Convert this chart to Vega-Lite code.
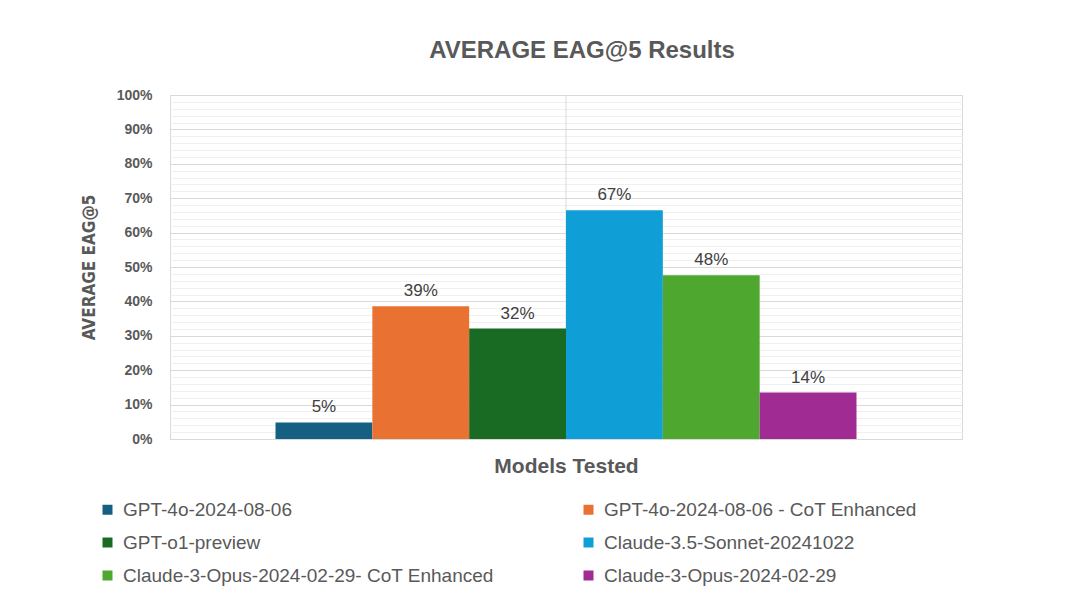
{
  "$schema": "https://vega.github.io/schema/vega-lite/v6.json",
  "autosize": {"type": "none"},
  "padding": {"left": 170, "top": 95, "right": 120, "bottom": 156},
  "width": 792,
  "height": 344,
  "background": "white",
  "title": {
    "text": "AVERAGE EAG@5 Results",
    "font": "Liberation Sans",
    "fontSize": 24,
    "fontWeight": "bold",
    "color": "#595959",
    "anchor": "middle",
    "dx": 16,
    "offset": 25
  },
  "config": {
    "view": {"stroke": "#d9d9d9", "strokeWidth": 1},
    "font": "Liberation Sans"
  },
  "data": {
    "values": [
      {"grp": "Models Tested", "model": "GPT-4o-2024-08-06", "value": 0.048},
      {"grp": "Models Tested", "model": "GPT-4o-2024-08-06 - CoT Enhanced", "value": 0.386},
      {"grp": "Models Tested", "model": "GPT-o1-preview", "value": 0.321},
      {"grp": "Models Tested", "model": "Claude-3.5-Sonnet-20241022", "value": 0.665},
      {"grp": "Models Tested", "model": "Claude-3-Opus-2024-02-29- CoT Enhanced", "value": 0.476},
      {"grp": "Models Tested", "model": "Claude-3-Opus-2024-02-29", "value": 0.135}
    ]
  },
  "encoding": {
    "x": {
      "field": "grp",
      "type": "nominal",
      "scale": {"paddingInner": 0, "paddingOuter": 0.1816},
      "axis": {
        "labels": false,
        "ticks": false,
        "domain": true,
        "domainColor": "#d9d9d9",
        "title": "Models Tested",
        "titleFont": "Liberation Sans",
        "titleFontSize": 21,
        "titleFontWeight": "bold",
        "titleColor": "#595959",
        "titlePadding": 16
      }
    }
  },
  "layer": [
    {
      "transform": [{"filter": "datum.model === 'GPT-4o-2024-08-06'"}],
      "mark": {"type": "rule", "color": "#d9d9d9", "strokeWidth": 1},
      "encoding": {}
    },
    {
      "mark": {"type": "bar"},
      "encoding": {
        "xOffset": {
          "field": "model",
          "type": "nominal",
          "sort": null,
          "scale": {"paddingInner": 0, "paddingOuter": 0, "domain": ["GPT-4o-2024-08-06", "GPT-4o-2024-08-06 - CoT Enhanced", "GPT-o1-preview", "Claude-3.5-Sonnet-20241022", "Claude-3-Opus-2024-02-29- CoT Enhanced", "Claude-3-Opus-2024-02-29"]}
        },
        "y": {
          "field": "value",
          "type": "quantitative",
          "scale": {"domain": [0, 1], "nice": false},
          "axis": {
            "values": [0, 0.02, 0.04, 0.06, 0.08, 0.1, 0.12, 0.14, 0.16, 0.18, 0.2, 0.22, 0.24, 0.26, 0.28, 0.3, 0.32, 0.34, 0.36, 0.38, 0.4, 0.42, 0.44, 0.46, 0.48, 0.5, 0.52, 0.54, 0.56, 0.58, 0.6, 0.62, 0.64, 0.66, 0.68, 0.7, 0.72, 0.74, 0.76, 0.78, 0.8, 0.82, 0.84, 0.86, 0.88, 0.9, 0.92, 0.94, 0.96, 0.98, 1],
            "tickCount": 51,
            "format": ".0%",
            "labelExpr": "round(datum.value*100) % 10 === 0 ? datum.label : ''",
            "labelOverlap": false,
            "grid": true,
            "gridColor": {"condition": {"test": "round(datum.value*100) % 10 === 0", "value": "#d9d9d9"}, "value": "#f0f0f0"},
            "domain": false,
            "ticks": false,
            "labelFont": "Liberation Sans",
            "labelFontSize": 14,
            "labelFontWeight": "bold",
            "labelColor": "#595959",
            "labelPadding": 18,
            "title": "AVERAGE EAG@5",
            "titleFont": "'DejaVu Sans Condensed', 'Liberation Sans', sans-serif",
            "titleFontSize": 17,
            "titleFontWeight": "bold",
            "titleColor": "#595959",
            "titleX": -81,
            "titleY": 172,
            "titleAngle": -90,
            "titleAlign": "center",
            "titleBaseline": "middle"
          }
        },
        "color": {
          "field": "model",
          "type": "nominal",
          "scale": {
            "domain": ["GPT-4o-2024-08-06", "GPT-4o-2024-08-06 - CoT Enhanced", "GPT-o1-preview", "Claude-3.5-Sonnet-20241022", "Claude-3-Opus-2024-02-29- CoT Enhanced", "Claude-3-Opus-2024-02-29"],
            "range": ["#156082", "#E97132", "#196B24", "#0F9ED5", "#4EA72E", "#A02B93"]
          },
          "legend": {
            "orient": "none",
            "legendX": -72,
            "legendY": 405,
            "title": null,
            "columns": 2,
            "direction": "horizontal",
            "symbolType": "square",
            "symbolSize": 100,
            "symbolStrokeWidth": 0,
            "labelFont": "Liberation Sans",
            "labelFontSize": 19,
            "labelColor": "#595959",
            "labelOffset": 6,
            "labelLimit": 500,
            "rowPadding": 13,
            "columnPadding": 85
          }
        }
      }
    },
    {
      "mark": {"type": "text", "dy": -10, "baseline": "alphabetic", "font": "Liberation Sans", "fontSize": 17, "color": "#404040"},
      "encoding": {
        "xOffset": {
          "field": "model",
          "type": "nominal",
          "sort": null,
          "scale": {"paddingInner": 0, "paddingOuter": 0, "domain": ["GPT-4o-2024-08-06", "GPT-4o-2024-08-06 - CoT Enhanced", "GPT-o1-preview", "Claude-3.5-Sonnet-20241022", "Claude-3-Opus-2024-02-29- CoT Enhanced", "Claude-3-Opus-2024-02-29"]}
        },
        "y": {"field": "value", "type": "quantitative"},
        "text": {"field": "value", "type": "quantitative", "format": ".0%"}
      }
    }
  ]
}
